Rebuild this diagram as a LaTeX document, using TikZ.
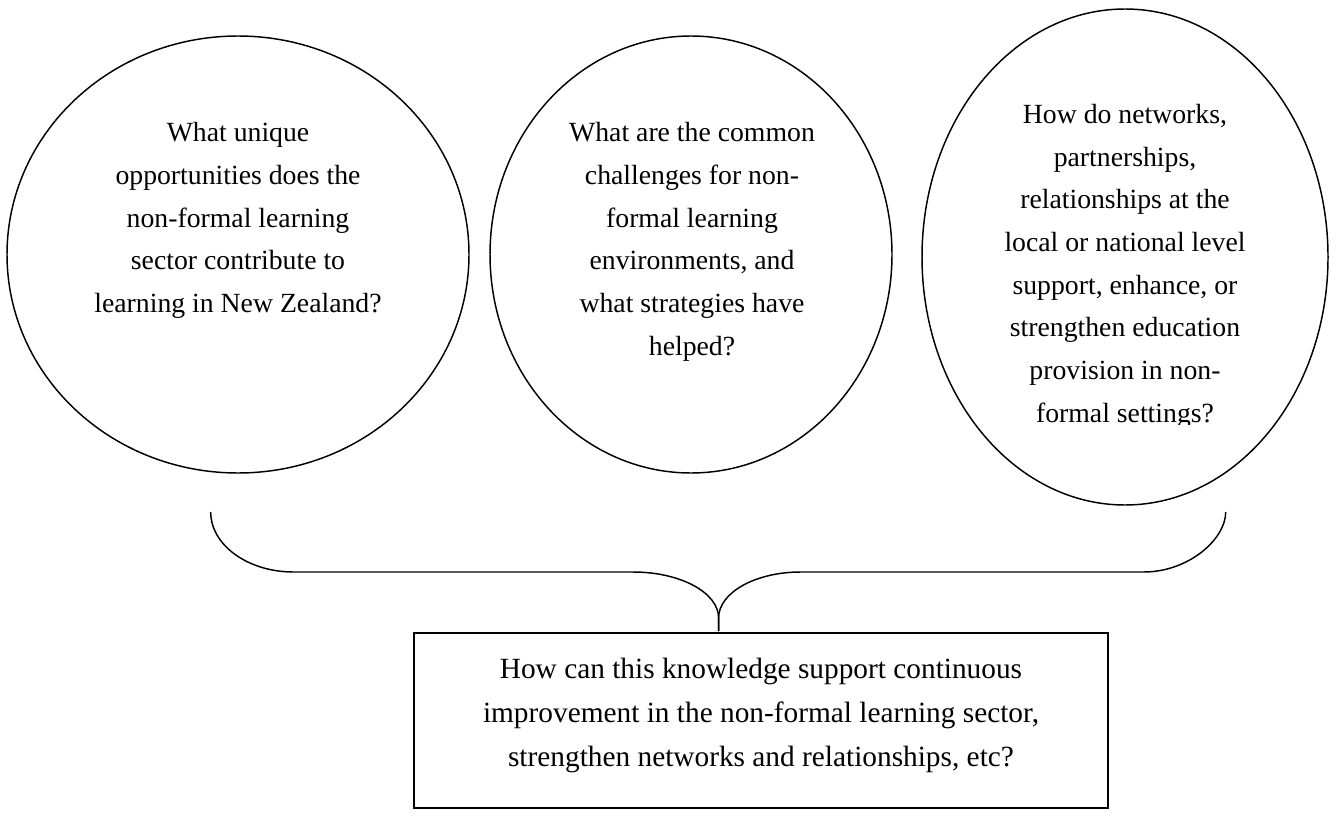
\documentclass[tikz,border=0pt]{standalone}
\usepackage{fontspec}
\setmainfont{Liberation Serif}
\usetikzlibrary{shapes.geometric}
\newcommand\fl{\rule{0pt}{15pt}}
\begin{document}
\begin{tikzpicture}[x=0.75pt,y=-0.75pt,
  bubble/.style={draw, ellipse, line width=1.1pt, inner sep=0pt, outer sep=0pt},
  qtext/.style={anchor=north, align=center, inner sep=0pt, font=\fontsize{20.8pt}{32pt}\selectfont},
  btext/.style={anchor=north, align=center, inner sep=0pt, font=\fontsize{22pt}{33pt}\selectfont},
  bracestyle/.style={draw, line width=1.1pt},
  answerbox/.style={draw, rectangle, line width=1.3pt, inner sep=0pt, outer sep=0pt}]
\useasboundingbox (0,0) rectangle (1337,820);
% bubbles
\node[bubble, minimum width=346.5pt, minimum height=327.75pt] (e1) at (238,254.5) {};
\node[bubble, minimum width=301.5pt, minimum height=327.75pt] (e2) at (691,254.5) {};
\node[bubble, minimum width=304.5pt, minimum height=372pt] (e3) at (1125,257) {};
% texts
\node[qtext] (t1) at (238,121.7) {\fl What unique\\opportunities does the\\non-formal learning\\sector contribute to\\learning in New Zealand?};
\node[qtext] (t2) at (692,121.7) {\fl What are the common\\challenges for non-\\formal learning\\environments, and\\what strategies have\\helped?};
\begin{scope}
\clip (900,0) rectangle (1337,424);
\node[qtext] (t3) at (1125,103.3) {\fl How do networks,\\partnerships,\\relationships at the\\local or national level\\support, enhance, or\\strengthen education\\provision in non-\\formal settings?};
\end{scope}
% brace
\coordinate (bl) at (210.7,512);
\coordinate (br) at (1225.7,512);
\coordinate (tipt) at (718.6,618);
\coordinate (tip) at (718.6,631);
\draw[bracestyle] (bl) .. controls (210.7,545) and (247.8,572) .. (293.6,572) -- (633,572)
  .. controls (680.3,572) and (718.6,592.6) .. (tipt) -- (tip);
\draw[bracestyle] (tip) -- (tipt) .. controls (718.6,592.6) and (755.4,572) .. (800.7,572)
  -- (1143.6,572) .. controls (1188.9,572) and (1225.7,538.9) .. (br);
% answer box
\node[answerbox, minimum width=520.5pt, minimum height=131.25pt] (box) at (761,720.5) {};
\node[btext] (tb) at (761,658) {\fl How can this knowledge support continuous\\improvement in the non-formal learning sector,\\strengthen networks and relationships, etc?};
\end{tikzpicture}
\end{document}
